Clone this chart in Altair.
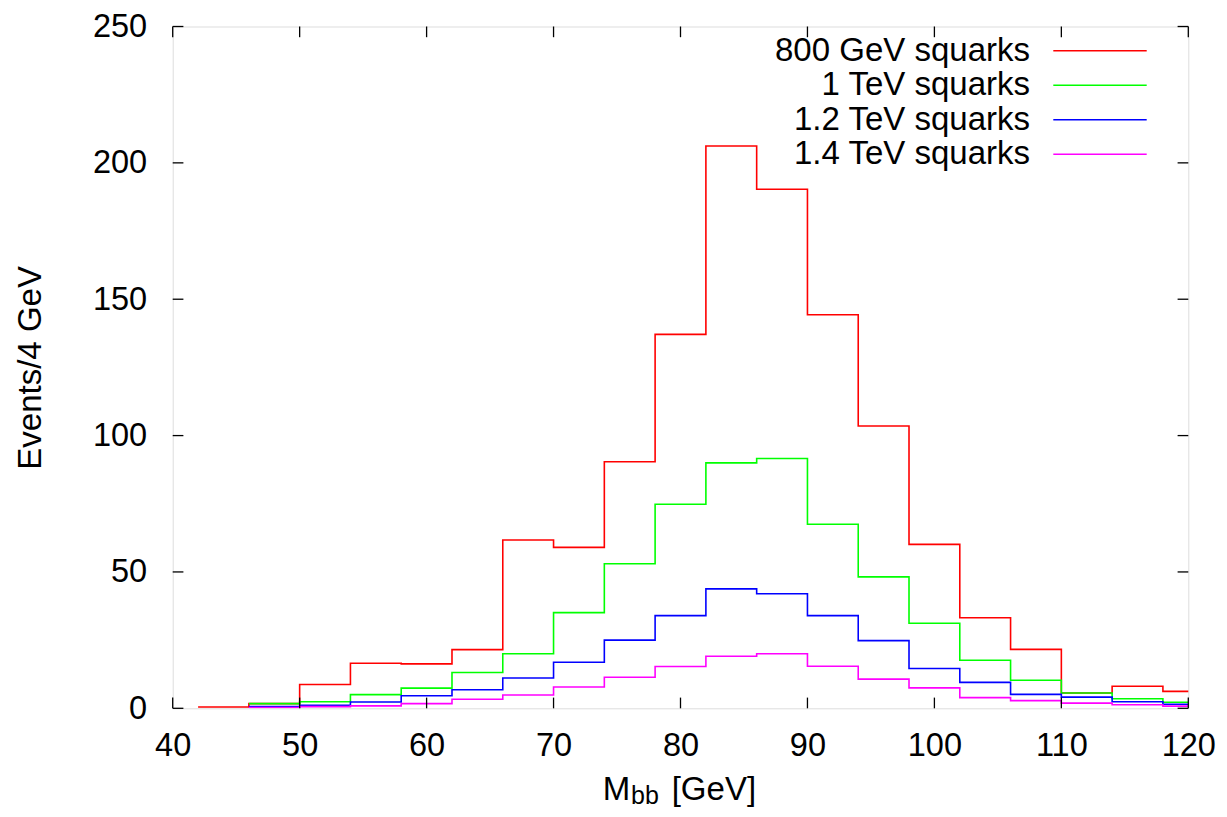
import altair as alt
import pandas as pd

# ---- data ----
bin_lo = [42, 46, 50, 54, 58, 62, 66, 70, 74, 78, 82, 86, 90, 94, 98, 102, 106, 110, 114, 118]
bin_width = 4

series_names = ["800 GeV squarks", "1 TeV squarks", "1.2 TeV squarks", "1.4 TeV squarks"]
series_colors = ["#ff0000", "#00ff00", "#0000ff", "#ff00ff"]

red_800 = [0.5, 1.7, 8.7, 16.5, 16.3, 21.5, 61.7, 59.0, 90.4, 137.1, 206.2, 190.3, 144.3, 103.5, 60.1, 33.2, 21.6, 5.6, 8.1, 6.2]
green_1000 = [None, 1.7, 2.4, 5.0, 7.4, 13.1, 20.0, 35.1, 53.0, 74.8, 90.0, 91.6, 67.5, 48.2, 31.2, 17.6, 10.3, 5.6, 3.5, 2.2]
blue_1200 = [None, 0.6, 1.1, 2.3, 4.6, 6.8, 11.1, 16.9, 25.0, 34.0, 43.8, 42.0, 34.0, 24.8, 14.6, 9.5, 5.1, 4.1, 2.4, 1.5]
mag_1400 = [None, 0.3, 0.6, 0.9, 1.7, 3.3, 4.9, 7.8, 11.4, 15.3, 19.1, 20.0, 15.4, 10.7, 7.5, 3.9, 2.8, 1.9, 1.3, 0.8]

x_ticks = [40, 50, 60, 70, 80, 90, 100, 110, 120]
y_ticks = [0, 50, 100, 150, 200, 250]

# ---- layout ----
PAD_TOP = 18.5
BOTTOM_PAGE = 708.3
TOP_PAGE = 8 + PAD_TOP
W, H = 1015.6, BOTTOM_PAGE - TOP_PAGE
FONT = "Liberation Sans"
TICK = 10.7

xscale = alt.Scale(domain=[40, 120], nice=False, zero=False)
yscale = alt.Scale(domain=[0, 250], nice=False, zero=False)


def step_frame(values, name):
    xs, ys = [], []
    for lo, v in zip(bin_lo, values):
        if v is None:
            continue
        xs.append(lo)
        ys.append(v)
    xs.append(bin_lo[-1] + bin_width)
    ys.append(ys[-1])
    return pd.DataFrame({"mbb": xs, "events": ys, "series": name})


all_series = [red_800, green_1000, blue_1200, mag_1400]

layers = []

# base layer with axes
base = alt.Chart(step_frame(red_800, series_names[0])).mark_line(
    interpolate="step-after", strokeWidth=1.6, clip=True, color=series_colors[0]
).encode(
    x=alt.X("mbb:Q", scale=xscale,
            axis=alt.Axis(values=x_ticks, ticks=False, domain=False, grid=False, title=None,
                          labelFont=FONT, labelFontSize=32.5, labelPadding=21, labelColor="black",
                          labelFlush=False, labelOverlap=False)),
    y=alt.Y("events:Q", scale=yscale,
            axis=alt.Axis(values=y_ticks, ticks=False, domain=False, grid=False,
                          title="Events/4 GeV", titleFont=FONT, titleFontSize=33,
                          titleFontWeight="normal", titleColor="black",
                          titleAngle=270, titleAlign="center", titleBaseline="middle",
                          titleX=-142.7, titleY=H / 2,
                          labelFont=FONT, labelFontSize=32.5, labelPadding=26, labelColor="black",
                          labelFlush=False, labelOverlap=False)),
)
layers.append(base)

for vals, name, col in zip(all_series[1:], series_names[1:], series_colors[1:]):
    layers.append(
        alt.Chart(step_frame(vals, name)).mark_line(
            interpolate="step-after", strokeWidth=1.6, clip=True, color=col
        ).encode(x=alt.X("mbb:Q", scale=xscale), y=alt.Y("events:Q", scale=yscale))
    )

# inward ticks (mirrored on all four sides)
xt = pd.DataFrame({"t": x_ticks})
yt = pd.DataFrame({"t": y_ticks})
tick_style = dict(color="black", strokeWidth=1.3)
layers.append(alt.Chart(xt).mark_rule(**tick_style).encode(
    x=alt.X("t:Q", scale=xscale), y=alt.value(H), y2=alt.value(H - TICK)))
layers.append(alt.Chart(xt).mark_rule(**tick_style).encode(
    x=alt.X("t:Q", scale=xscale), y=alt.value(0), y2=alt.value(TICK)))
layers.append(alt.Chart(yt).mark_rule(**tick_style).encode(
    y=alt.Y("t:Q", scale=yscale), x=alt.value(0), x2=alt.value(TICK)))
layers.append(alt.Chart(yt).mark_rule(**tick_style).encode(
    y=alt.Y("t:Q", scale=yscale), x=alt.value(W), x2=alt.value(W - TICK)))

# legend (gnuplot style: right-aligned text, line sample to the right)
leg_text_x = 857.3
leg_line_x1, leg_line_x2 = 880.6, 974.0
leg_rows_page = [50.7, 85.2, 119.7, 154.2]
for i, (name, col) in enumerate(zip(series_names, series_colors)):
    ly = leg_rows_page[i] - TOP_PAGE
    ldf = pd.DataFrame({"label": [name]})
    layers.append(alt.Chart(ldf).mark_text(
        align="right", baseline="middle", font=FONT, fontSize=33, color="black"
    ).encode(text="label:N", x=alt.value(leg_text_x), y=alt.value(ly)))
    layers.append(alt.Chart(ldf).mark_rule(color=col, strokeWidth=1.6).encode(
        x=alt.value(leg_line_x1), x2=alt.value(leg_line_x2), y=alt.value(ly)))

# x-axis title with subscript: M_bb [GeV]
title_parts = [("M", 430.0, 799.5 - TOP_PAGE, 33),
               ("bb", 458.3, 803.5 - TOP_PAGE, 25),
               ("[GeV]", 499.0, 799.5 - TOP_PAGE, 33)]
for txt, tx, ty, fs in title_parts:
    layers.append(alt.Chart(pd.DataFrame({"s": [txt]})).mark_text(
        align="left", baseline="alphabetic", font=FONT, fontSize=fs, color="black"
    ).encode(text="s:N", x=alt.value(tx), y=alt.value(ty)))

chart = alt.layer(*layers).properties(
    width=W, height=H,
    autosize=alt.AutoSizeParams(type="none"),
    padding={"left": 164.7, "top": PAD_TOP, "right": 30.7, "bottom": 801 - PAD_TOP - H},
).configure_view(
    stroke="black", strokeWidth=2
).configure(background="white")

chart.save("out.html", embed_options={"renderer": "svg", "actions": False})
